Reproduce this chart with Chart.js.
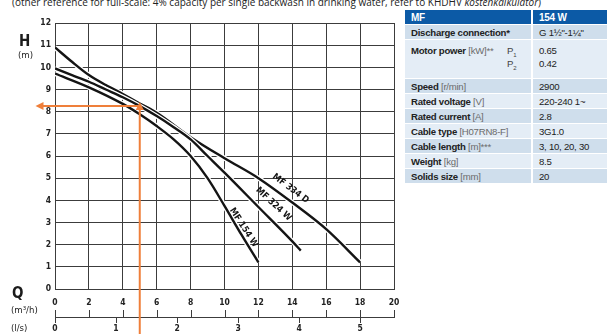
<!DOCTYPE html>
<html>
<head>
<meta charset="utf-8">
<script src="https://cdn.jsdelivr.net/npm/chart.js@4.4.1/dist/chart.umd.min.js"></script>
<style>
  html, body { margin: 0; padding: 0; background: #fff; }
  body { width: 607px; height: 334px; position: relative; overflow: hidden; font-family: 'Liberation Sans', Arial, sans-serif; }
  #wrap { position: absolute; left: 0; top: 0; width: 400px; height: 334px; }
  .ax { position: absolute; color: #1b1b1b; font-family: 'DejaVu Sans Condensed', 'DejaVu Sans', sans-serif; line-height: 1; white-space: nowrap; }
  .big { font-weight: bold; font-size: 15px; }
  .unit { font-size: 9.5px; }
  #note { position: absolute; left: 12px; top: -5px; font-family: 'Open Sans', sans-serif; font-size: 10px; line-height: 14px; color: #222; white-space: nowrap; }

  #spec { position: absolute; left: 405px; top: 10px; width: 202px; border-collapse: collapse; table-layout: fixed; font-size: 9.6px; color: #222; letter-spacing: -0.25px; }
  #spec td { padding: 0 0 0 6px; height: 14px; border-bottom: 1px solid #fff; vertical-align: middle; white-space: nowrap; overflow: hidden; }
  #spec td.k { width: 120px; border-right: 2px solid #fff; font-weight: bold; position: relative; }
  #spec tr.h td { background: #0c5aa6; color: #fff; font-weight: bold; font-size: 10px; }
  #spec tr.d td { background: #cfdeec; }
  #spec tr.l td { background: #e4edf6; }
  #spec .u { font-weight: normal; color: #6b6b6b; }
  #spec .p { position: absolute; left: 102px; font-weight: normal; color: #444; }
  #spec .p sub { font-size: 6px; }
</style>
</head>
<body>
<div id="note">(other reference for full-scale: 4% capacity per single backwash in drinking water, refer to KHDHV <i>kostenkalkulator</i>)</div>

<div id="wrap"><canvas id="chart-pump" width="400" height="334"></canvas></div>

<div class="ax big" style="left:19px;top:34px;">H</div>
<div class="ax unit" style="left:18px;top:50px;">(m)</div>
<div class="ax big" style="left:12px;top:286px;">Q</div>
<div class="ax unit" style="left:11px;top:305px;">(m³/h)</div>
<div class="ax unit" style="left:11px;top:323px;">(l/s)</div>

<table id="spec">
  <tr class="h"><td class="k">MF</td><td>154 W</td></tr>
  <tr class="d"><td class="k">Discharge connection*</td><td>G 1½"-1¼"</td></tr>
  <tr class="l"><td class="k" style="height:33px;vertical-align:top;padding-top:5px;">Motor power <span class="u">[kW]**</span>
      <span class="p" style="top:5px;">P<sub>1</sub></span><span class="p" style="top:18px;">P<sub>2</sub></span></td>
      <td style="vertical-align:top;padding-top:4px;line-height:13px;">0.65<br>0.42</td></tr>
  <tr class="d"><td class="k">Speed <span class="u">[r/min]</span></td><td>2900</td></tr>
  <tr class="l"><td class="k">Rated voltage <span class="u">[V]</span></td><td>220-240 1~</td></tr>
  <tr class="d"><td class="k">Rated current <span class="u">[A]</span></td><td>2.8</td></tr>
  <tr class="l"><td class="k">Cable type <span class="u">[H07RN8-F]</span></td><td>3G1.0</td></tr>
  <tr class="d"><td class="k">Cable length <span class="u">[m]***</span></td><td>3, 10, 20, 30</td></tr>
  <tr class="l"><td class="k">Weight <span class="u">[kg]</span></td><td>8.5</td></tr>
  <tr class="d"><td class="k">Solids size <span class="u">[mm]</span></td><td>20</td></tr>
</table>

<script>
/* ---------- pump curves: flow Q [m³/h] vs head H [m] ---------- */
const Q_154W = [0, 2, 4, 5, 6, 7, 8, 9, 10, 11, 12];
const H_154W = [9.72, 9.1, 8.35, 7.88, 7.35, 6.75, 6.0, 5.0, 3.75, 2.45, 1.2];

const Q_324W = [0, 1, 2, 3, 4, 5, 6, 7, 8, 9, 10, 12, 14, 14.5];
const H_324W = [9.95, 9.65, 9.35, 9.0, 8.65, 8.25, 7.8, 7.3, 6.75, 6.0, 5.25, 3.7, 2.15, 1.73];

const Q_334D = [0, 1, 2, 3, 4, 5, 6, 8, 10, 12, 14, 16, 18];
const H_334D = [10.9, 10.25, 9.65, 9.2, 8.8, 8.37, 7.95, 6.85, 5.9, 5.0, 3.9, 2.7, 1.2];

const CURVE_NAMES = ['MF 154 W', 'MF 324 W', 'MF 334 D'];

/* ---------- axes ---------- */
const Q_MAX = 20;          // m³/h
const H_MAX = 12;          // m
const M3H_PER_LS = 3.6;    // 1 l/s = 3.6 m³/h
const LS_TICKS = [0, 1, 2, 3, 4, 5];

/* ---------- duty point (orange arrows) ---------- */
const DUTY_Q = 5.0;
const DUTY_H = 8.26;
const ARROW_LEFT_Q = -1.15;

/* ---------- curve labels: [Q, H, angle°] ---------- */
const LABEL_POS = [[11.13, 2.77, 57], [12.9, 3.83, 43], [13.9, 4.53, 37]];

const INK = '#141414';
const GRID = '#3c3c3c';
const ORANGE = '#ef7f3a';
const TICK_FONT = { family: "'DejaVu Sans Condensed', 'DejaVu Sans'", size: 8.5, weight: 'bold' };

const toPts = (qs, hs) => qs.map((q, i) => ({ x: q, y: hs[i] }));
const curves = [toPts(Q_154W, H_154W), toPts(Q_324W, H_324W), toPts(Q_334D, H_334D)];

// each curve gets a white halo underneath so crossings show a small gap
const datasets = [];
curves.forEach((pts, i) => {
  datasets.push({ label: CURVE_NAMES[i], data: pts, borderColor: INK, borderWidth: 2.4,
    pointRadius: 0, cubicInterpolationMode: 'monotone', fill: false });
  datasets.push({ label: CURVE_NAMES[i] + ' halo', data: pts, borderColor: '#fff', borderWidth: 5,
    pointRadius: 0, cubicInterpolationMode: 'monotone', fill: false });
});

// keep the plot edges fixed: no extra side padding from tick labels
const fixSides = s => { s.paddingLeft = 0; s.paddingRight = 6; };

const overlayPlugin = {
  id: 'overlay',
  afterDraw(chart) {
    const { ctx, scales: { x, x2, y } } = chart;

    // upward tick marks of the m³/h scale on the shared baseline
    ctx.save();
    ctx.strokeStyle = GRID; ctx.lineWidth = 1;
    x.ticks.forEach(t => {
      const px = Math.round(x.getPixelForValue(t.value)) + 0.5;
      ctx.beginPath(); ctx.moveTo(px, x2.top - 7); ctx.lineTo(px, x2.top); ctx.stroke();
    });
    ctx.restore();

    // curve names
    ctx.save();
    ctx.fillStyle = INK;
    ctx.font = "bold 9px 'DejaVu Sans Condensed', 'DejaVu Sans'";
    ctx.textAlign = 'center'; ctx.textBaseline = 'middle';
    LABEL_POS.forEach(([q, h, ang], i) => {
      ctx.save();
      ctx.translate(x.getPixelForValue(q), y.getPixelForValue(h));
      ctx.rotate(ang * Math.PI / 180);
      ctx.fillText(CURVE_NAMES[i], 0, 0);
      ctx.restore();
    });
    ctx.restore();

    // duty point arrows
    const px = x.getPixelForValue(DUTY_Q);
    const py = y.getPixelForValue(DUTY_H);
    const lx = x.getPixelForValue(ARROW_LEFT_Q);
    ctx.save();
    ctx.strokeStyle = ORANGE; ctx.fillStyle = ORANGE; ctx.lineWidth = 2;
    ctx.beginPath(); ctx.moveTo(px, py); ctx.lineTo(lx + 6, py); ctx.stroke();
    ctx.beginPath(); ctx.moveTo(lx, py); ctx.lineTo(lx + 8, py - 4); ctx.lineTo(lx + 8, py + 4); ctx.closePath(); ctx.fill();
    const tipY = py - 4;
    ctx.beginPath(); ctx.moveTo(px, chart.height); ctx.lineTo(px, tipY + 6); ctx.stroke();
    ctx.beginPath(); ctx.moveTo(px, tipY); ctx.lineTo(px - 4, tipY + 8); ctx.lineTo(px + 4, tipY + 8); ctx.closePath(); ctx.fill();
    ctx.restore();
  }
};

new Chart(document.getElementById('chart-pump'), {
  type: 'line',
  data: { datasets },
  options: {
    responsive: false, animation: false, devicePixelRatio: 1,
    layout: { padding: { top: 23, right: 2, left: 0, bottom: 0 } },
    plugins: { legend: { display: false }, tooltip: { enabled: false } },
    scales: {
      x: {
        type: 'linear', position: 'bottom', min: 0, max: Q_MAX, weight: 0,
        afterFit: s => { s.height = 28; fixSides(s); },
        grid: { color: GRID, lineWidth: 1, drawTicks: false },
        border: { color: GRID },
        ticks: { stepSize: 2, padding: 9, color: '#222', font: TICK_FONT, maxRotation: 0 }
      },
      x2: {
        type: 'linear', position: 'bottom', min: 0, max: Q_MAX / M3H_PER_LS, weight: 1,
        afterFit: s => { s.height = 17; fixSides(s); },
        afterBuildTicks: s => { s.ticks = LS_TICKS.map(v => ({ value: v })); },
        grid: { drawOnChartArea: false, drawTicks: true, tickLength: 6, color: GRID },
        border: { display: true, color: GRID, width: 1 },
        ticks: { padding: 1, color: '#222', font: TICK_FONT, maxRotation: 0, autoSkip: false }
      },
      y: {
        type: 'linear', min: 0, max: H_MAX,
        afterFit: s => { s.width = 55; },
        grid: { color: GRID, lineWidth: 1, drawTicks: false },
        border: { color: GRID },
        ticks: { stepSize: 1, padding: 4, color: '#222', font: TICK_FONT }
      }
    }
  },
  plugins: [overlayPlugin]
});
</script>
</body>
</html>
